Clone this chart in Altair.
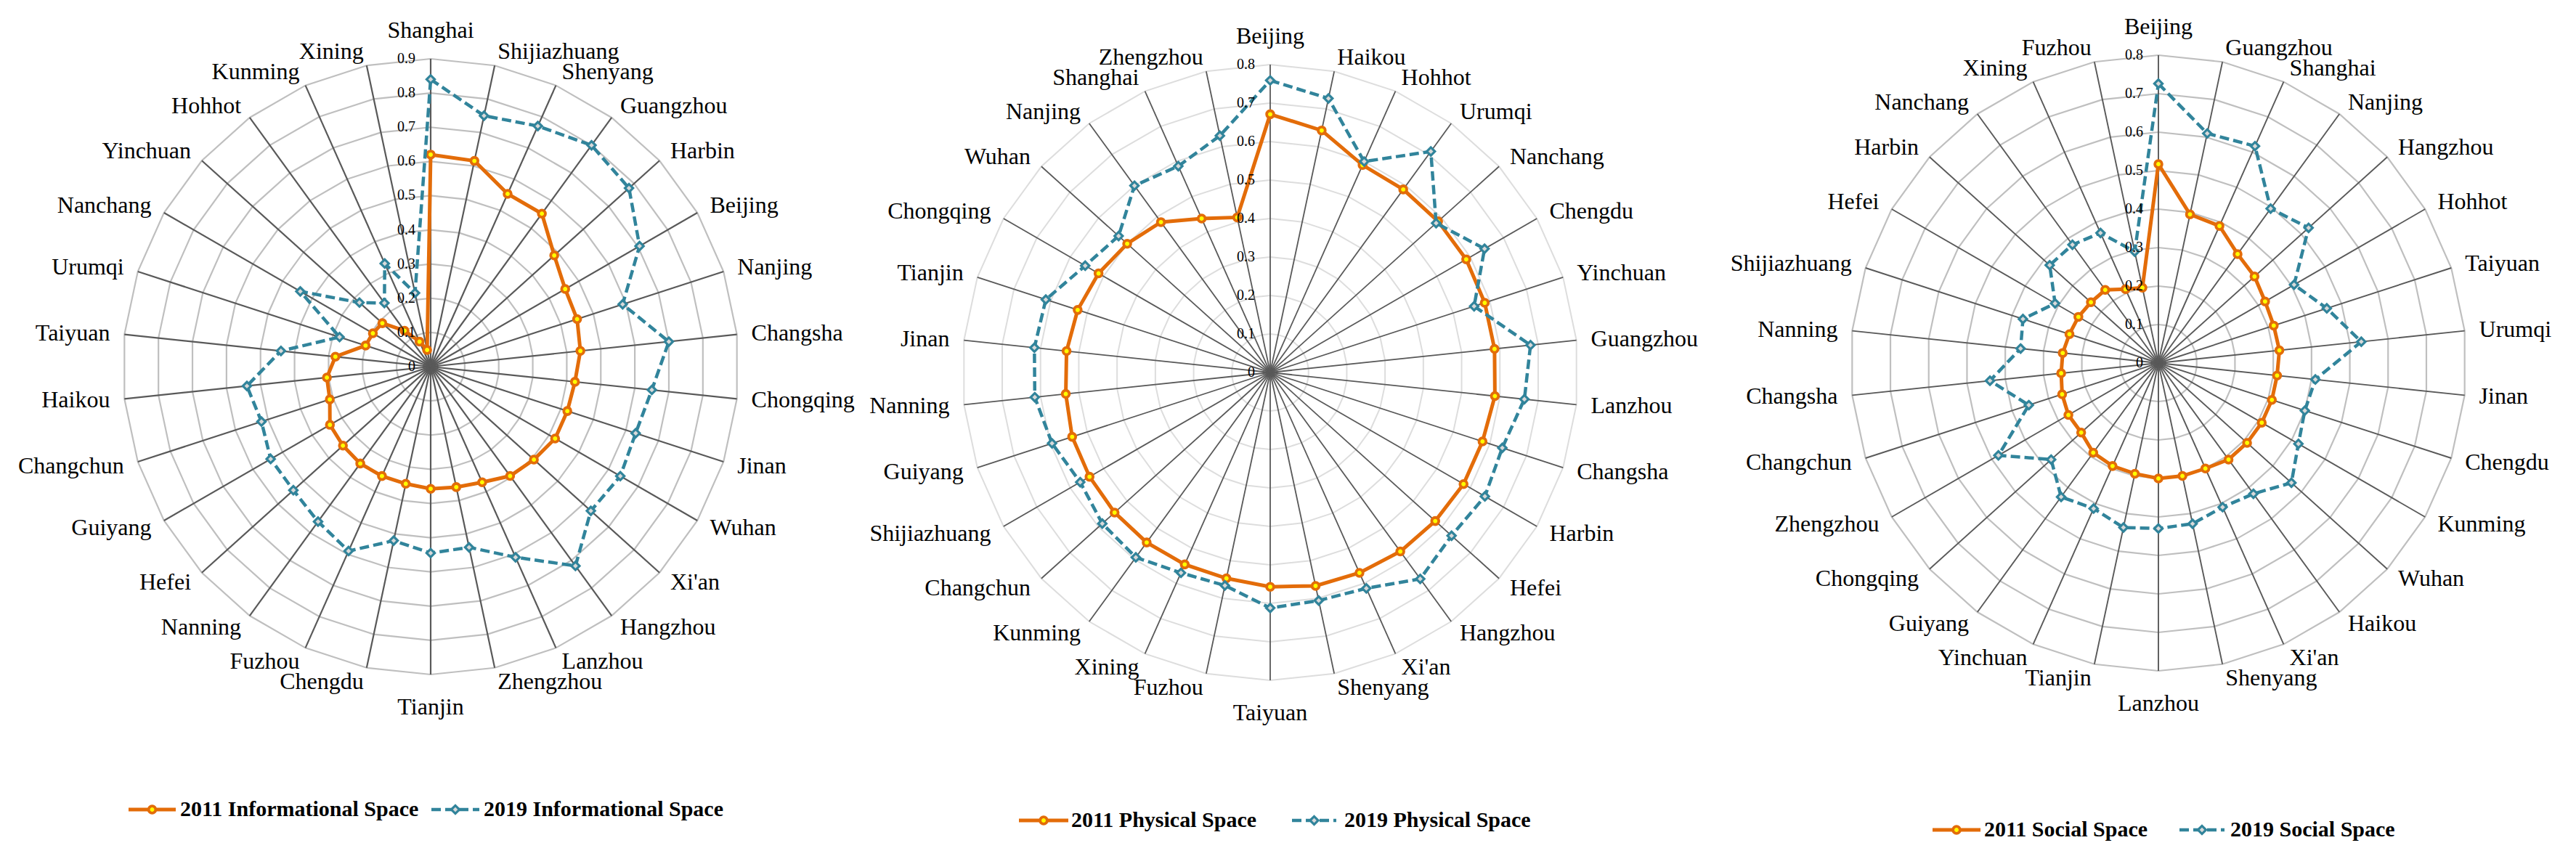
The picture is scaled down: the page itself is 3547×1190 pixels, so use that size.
import altair as alt
import pandas as pd

# ---------------- data ----------------
info_cities = ["Shanghai", "Shijiazhuang", "Shenyang", "Guangzhou", "Harbin", "Beijing", "Nanjing",
               "Changsha", "Chongqing", "Jinan", "Wuhan", "Xi'an", "Hangzhou", "Lanzhou", "Zhengzhou",
               "Tianjin", "Chengdu", "Fuzhou", "Nanning", "Hefei", "Guiyang", "Changchun", "Haikou",
               "Taiyuan", "Urumqi", "Nanchang", "Yinchuan", "Hohhot", "Kunming", "Xining"]
info_2011 = [0.62, 0.615, 0.553, 0.553, 0.486, 0.454, 0.45, 0.44, 0.424, 0.42, 0.42, 0.406, 0.395, 0.37,
             0.36, 0.357, 0.35, 0.35, 0.35, 0.345, 0.34, 0.31, 0.305, 0.28, 0.20, 0.195, 0.19, 0.13, 0.08, 0.05]
info_2019 = [0.84, 0.75, 0.77, 0.80, 0.78, 0.705, 0.59, 0.70, 0.65, 0.63, 0.64, 0.63, 0.72, 0.61, 0.54,
             0.545, 0.52, 0.59, 0.56, 0.54, 0.54, 0.52, 0.54, 0.44, 0.28, 0.44, 0.28, 0.23, 0.33, 0.22]
info_ticks = [0, 0.1, 0.2, 0.3, 0.4, 0.5, 0.6, 0.7, 0.8, 0.9]
info_tick_labels = ["0", "0.1", "0.2", "0.3", "0.4", "0.5", "0.6", "0.7", "0.8", "0.9"]
info_names = ["2011 Informational Space", "2019 Informational Space"]

phys_cities = ["Beijing", "Haikou", "Hohhot", "Urumqi", "Nanchang", "Chengdu", "Yinchuan", "Guangzhou",
               "Lanzhou", "Changsha", "Harbin", "Hefei", "Hangzhou", "Xi'an", "Shenyang", "Taiyuan",
               "Fuzhou", "Xining", "Kunming", "Changchun", "Shijiazhuang", "Guiyang", "Nanning", "Jinan",
               "Tianjin", "Chongqing", "Wuhan", "Nanjing", "Shanghai", "Zhengzhou"]
phys_2011 = [0.671, 0.643, 0.59, 0.588, 0.587, 0.588, 0.586, 0.586, 0.587, 0.58, 0.58, 0.577, 0.575, 0.57,
             0.567, 0.557, 0.547, 0.546, 0.546, 0.544, 0.542, 0.541, 0.534, 0.532, 0.526, 0.515, 0.50,
             0.483, 0.438, 0.412]
phys_2019 = [0.759, 0.728, 0.60, 0.71, 0.58, 0.643, 0.557, 0.68, 0.664, 0.634, 0.644, 0.634, 0.663, 0.614,
             0.606, 0.612, 0.566, 0.57, 0.594, 0.587, 0.57, 0.596, 0.615, 0.616, 0.613, 0.555, 0.53,
             0.60, 0.587, 0.629]
phys_ticks = [0, 0.1, 0.2, 0.3, 0.4, 0.5, 0.6, 0.7, 0.8]
phys_tick_labels = ["0", "0.1", "0.2", "0.3", "0.4", "0.5", "0.6", "0.7", "0.8"]
phys_names = ["2011 Physical Space", "2019 Physical Space"]

soc_cities = ["Beijing", "Guangzhou", "Shanghai", "Nanjing", "Hangzhou", "Hohhot", "Taiyuan", "Urumqi",
              "Jinan", "Chengdu", "Kunming", "Wuhan", "Haikou", "Xi'an", "Shenyang", "Lanzhou", "Tianjin",
              "Yinchuan", "Guiyang", "Chongqing", "Zhengzhou", "Changchun", "Changsha", "Nanning",
              "Shijiazhuang", "Hefei", "Harbin", "Nanchang", "Xining", "Fuzhou"]
soc_2011 = [0.517, 0.395, 0.39, 0.35, 0.336, 0.32, 0.315, 0.316, 0.31, 0.31, 0.31, 0.31, 0.31, 0.30, 0.30,
            0.30, 0.294, 0.293, 0.288, 0.27, 0.27, 0.263, 0.254, 0.25, 0.243, 0.24, 0.236, 0.235, 0.21, 0.20]
soc_2019 = [0.726, 0.61, 0.617, 0.496, 0.525, 0.407, 0.46, 0.53, 0.41, 0.40, 0.42, 0.465, 0.42, 0.41, 0.427,
            0.43, 0.437, 0.414, 0.43, 0.375, 0.48, 0.354, 0.44, 0.36, 0.37, 0.31, 0.38, 0.38, 0.37, 0.296]
soc_ticks = [0, 0.1, 0.2, 0.3, 0.4, 0.5, 0.6, 0.7, 0.8]
soc_tick_labels = ["0", "0.1", "0.2", "0.3", "0.4", "0.5", "0.6", "0.7", "0.8"]
soc_names = ["2011 Social Space", "2019 Social Space"]

# ---------------- styling ----------------
R = 424            # outer ring radius in px
LABEL_R = 444      # category label anchor radius in px
W, H = 1177, 1170
ORANGE = "#E36C09"
TEAL = "#31849B"
YELLOW = "#FFFF00"
DIAMOND_FILL = "#D9D9D9"
SPOKE = "#595959"
SERIF = "Liberation Serif"


def build_panel(cities, v2011, v2019, ticks, tick_labels, names, cx, cy,
                ring_color, ring_width, spoke_width, leg):
    n = len(cities)
    vmax = max(ticks)
    ang = f"2*PI*datum.idx/{n}"

    rows = []
    for s_name, vals in ((names[0], v2011), (names[1], v2019)):
        for k in range(n + 1):
            i = k % n
            rows.append({"series": s_name, "city": cities[i], "k": k, "idx": i, "value": vals[i]})
    series_df = pd.DataFrame(rows)
    ring_df = pd.DataFrame([{"tick": t, "k": k, "idx": k % n} for t in ticks[1:] for k in range(n + 1)])
    spoke_df = pd.DataFrame({"idx": list(range(n)), "value": [vmax] * n})
    label_df = pd.DataFrame({"city": cities, "idx": list(range(n))})
    tick_df = pd.DataFrame({"value": ticks, "label": tick_labels, "idx": [0] * len(ticks)})

    xs = alt.Scale(domain=[-cx, W - cx], nice=False, zero=False)
    ys = alt.Scale(domain=[cy - H, cy], nice=False, zero=False)

    def X(f):
        return alt.X(f"{f}:Q", scale=xs, axis=None)

    def Y(f):
        return alt.Y(f"{f}:Q", scale=ys, axis=None)

    def polar(ch, field="value"):
        return ch.transform_calculate(
            px=f"datum.{field}*{R}/{vmax}*sin({ang})",
            py=f"datum.{field}*{R}/{vmax}*cos({ang})",
        )

    layers = []
    # grid rings (polygons)
    layers.append(
        polar(alt.Chart(ring_df), "tick")
        .mark_line(color=ring_color, strokeWidth=ring_width)
        .encode(x=X("px"), y=Y("py"), detail="tick:N", order="k:Q")
    )
    # spokes
    layers.append(
        polar(alt.Chart(spoke_df))
        .transform_calculate(ox="0", oy="0")
        .mark_rule(color=SPOKE, strokeWidth=spoke_width)
        .encode(x=X("ox"), y=Y("oy"), x2="px:Q", y2="py:Q")
    )
    # series
    styles = [
        dict(color=ORANGE, width=5, dash=None, shape="circle", fill=YELLOW, size=95, sw=3.8),
        dict(color=TEAL, width=4.5, dash=[13, 6], shape="diamond", fill=DIAMOND_FILL, size=125, sw=3.2),
    ]
    for s_name, st in zip(names, styles):
        base = polar(alt.Chart(series_df)).transform_filter(f"datum.series == '{s_name}'")
        line_kw = dict(color=st["color"], strokeWidth=st["width"])
        if st["dash"]:
            line_kw["strokeDash"] = st["dash"]
        layers.append(base.mark_line(**line_kw).encode(x=X("px"), y=Y("py"), order="k:Q"))
        layers.append(
            base.transform_filter(f"datum.k < {n}")
            .mark_point(shape=st["shape"], filled=True, fill=st["fill"], stroke=st["color"],
                        strokeWidth=st["sw"], size=st["size"], opacity=1)
            .encode(x=X("px"), y=Y("py"))
        )
    # tick labels
    layers.append(
        polar(alt.Chart(tick_df))
        .mark_text(align="right", baseline="middle", dx=-21, font=SERIF, fontSize=20, color="black")
        .encode(x=X("px"), y=Y("py"), text="label:N")
    )
    # category labels
    lab = alt.Chart(label_df).transform_calculate(
        px=f"{LABEL_R}*sin({ang})", py=f"{LABEL_R}*cos({ang})"
    )
    half = n // 2
    lab_kw = dict(font=SERIF, fontSize=32, color="black")
    layers.append(lab.transform_filter("datum.idx == 0")
                  .mark_text(align="center", baseline="bottom", dy=-2, **lab_kw)
                  .encode(x=X("px"), y=Y("py"), text="city:N"))
    layers.append(lab.transform_filter(f"datum.idx == {half}")
                  .mark_text(align="center", baseline="top", dy=10, **lab_kw)
                  .encode(x=X("px"), y=Y("py"), text="city:N"))
    layers.append(lab.transform_filter(f"datum.idx > 0 && datum.idx < {half}")
                  .mark_text(align="left", baseline="middle", **lab_kw)
                  .encode(x=X("px"), y=Y("py"), text="city:N"))
    layers.append(lab.transform_filter(f"datum.idx > {half}")
                  .mark_text(align="right", baseline="middle", **lab_kw)
                  .encode(x=X("px"), y=Y("py"), text="city:N"))

    # legend (drawn items)
    ly = leg["y"]
    for s_name, st, (x1, x2, tx) in zip(names, styles, leg["items"]):
        ldf = pd.DataFrame({"name": [s_name]})
        rule_kw = dict(color=st["color"], strokeWidth=st["width"])
        if st["dash"]:
            rule_kw["strokeDash"] = st["dash"]
        layers.append(alt.Chart(ldf).mark_rule(**rule_kw)
                      .encode(x=alt.value(x1), x2=alt.value(x2), y=alt.value(ly)))
        layers.append(alt.Chart(ldf).mark_point(shape=st["shape"], filled=True, fill=st["fill"],
                                                stroke=st["color"], strokeWidth=st["sw"],
                                                size=st["size"], opacity=1)
                      .encode(x=alt.value((x1 + x2) / 2), y=alt.value(ly)))
        layers.append(alt.Chart(ldf).mark_text(align="left", baseline="middle", font=SERIF,
                                               fontSize=30, fontWeight="bold", color="black")
                      .encode(x=alt.value(tx), y=alt.value(ly), text="name:N"))

    return alt.layer(*layers).properties(width=W, height=H)


p1 = build_panel(info_cities, info_2011, info_2019, info_ticks, info_tick_labels, info_names,
                 cx=585, cy=497, ring_color="#BFBFBF", ring_width=2.2, spoke_width=2.2,
                 leg={"y": 1107, "items": [(169, 234, 240), (586, 652, 658)]})
p2 = build_panel(phys_cities, phys_2011, phys_2019, phys_ticks, phys_tick_labels, phys_names,
                 cx=564, cy=505, ring_color="#DDDDDD", ring_width=2, spoke_width=1.8,
                 leg={"y": 1122, "items": [(218, 286, 290), (594, 655, 666)]})
p3 = build_panel(soc_cities, soc_2011, soc_2019, soc_ticks, soc_tick_labels, soc_names,
                 cx=610, cy=492, ring_color="#BFBFBF", ring_width=2.2, spoke_width=1.9,
                 leg={"y": 1135, "items": [(299, 365, 370), (639, 701, 709)]})

chart = alt.hconcat(p1, p2, p3, spacing=0, padding=0).configure_view(stroke=None)
chart.save("out.html", embed_options={"renderer": "svg", "actions": False})
